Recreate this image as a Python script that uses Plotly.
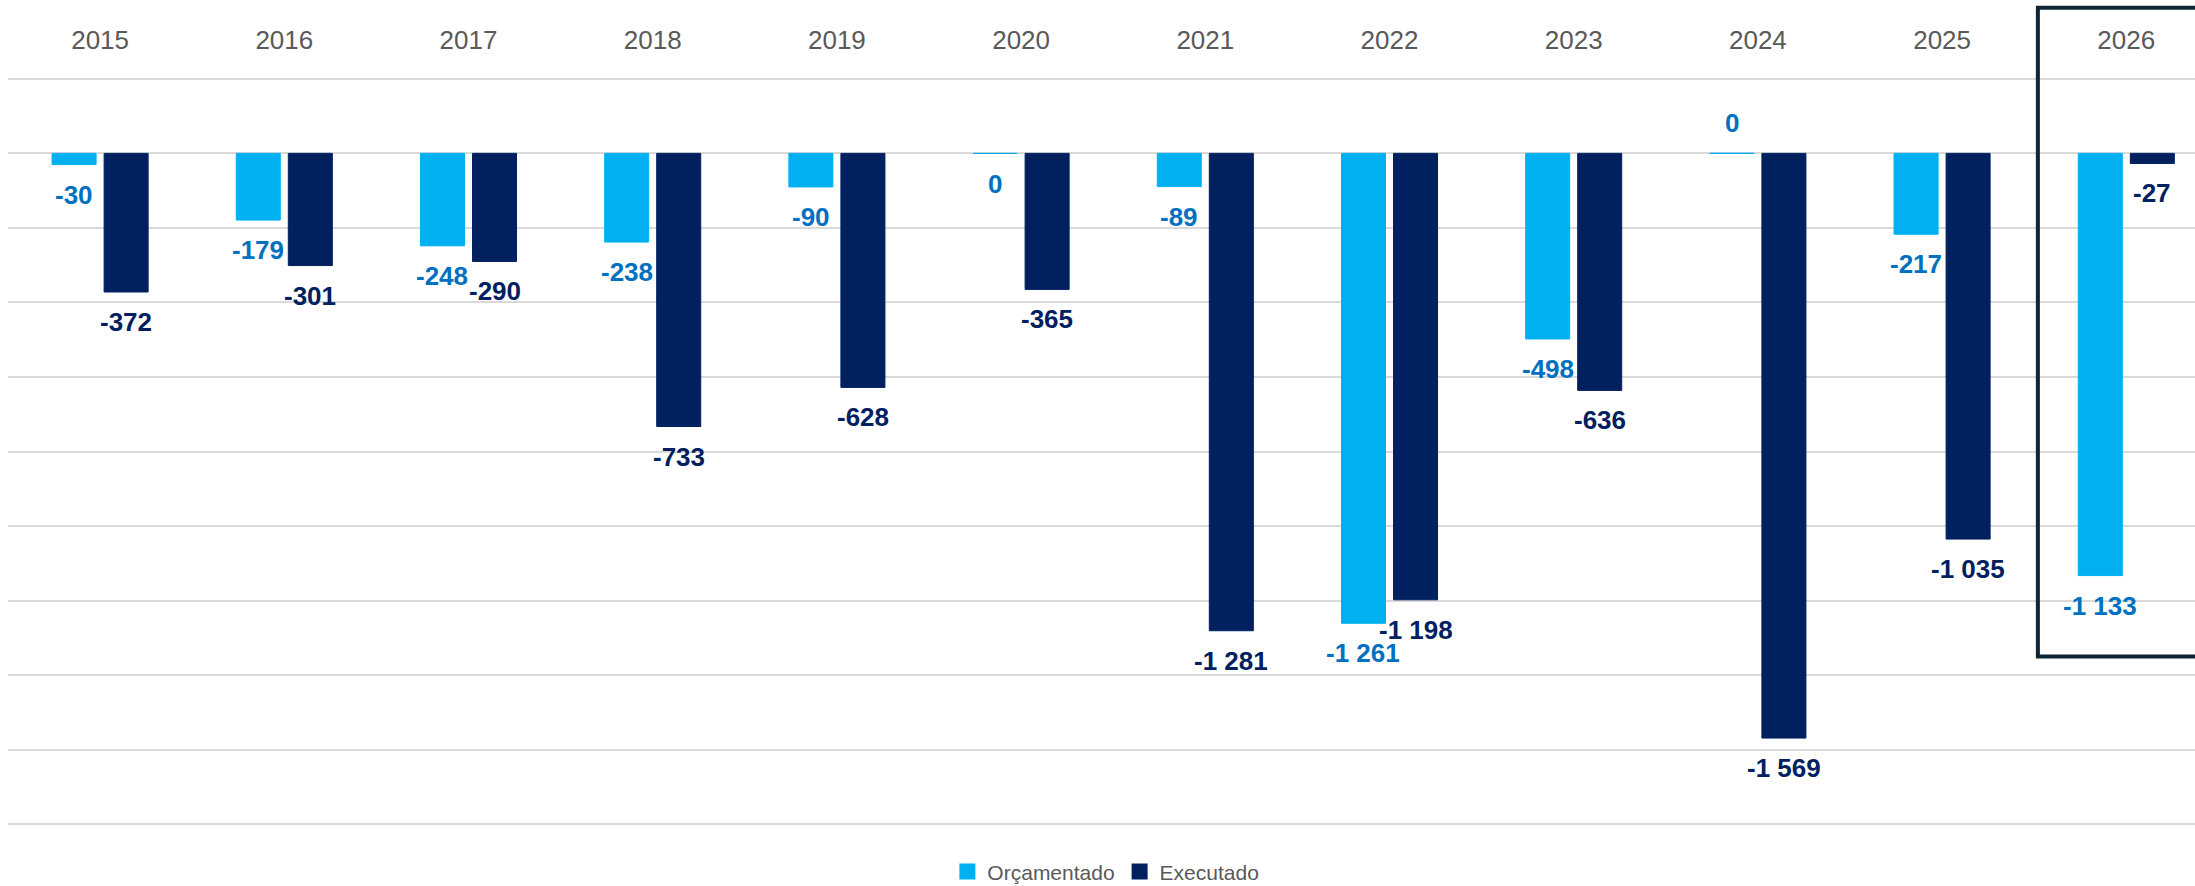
import plotly.graph_objects as go

years = ["2015", "2016", "2017", "2018", "2019", "2020", "2021", "2022", "2023", "2024", "2025", "2026"]
orcamentado = [-30, -179, -248, -238, -90, -0.3, -89, -1261, -498, 0.3, -217, -1133]
executado = [-372, -301, -290, -733, -628, -365, -1281, -1198, -636, -1569, -1035, -27]
series_names = ["Orçamentado", "Executado"]
bar_colors = ["#00B0F0", "#002060"]
label_colors = ["#0070C0", "#002060"]
highlight_year = "2026"

BARGAP = 0.435
BARGROUPGAP = 0.154
FONT = "Liberation Sans, Arial, sans-serif"


def fmt(v):
    n = int(round(v))
    s = f"{abs(n):,}".replace(",", " ")
    return ("-" if n < 0 else "") + s


fig = go.Figure()
series = [orcamentado, executado]
for name, vals, col in zip(series_names, series, bar_colors):
    fig.add_trace(go.Bar(
        x=years, y=vals, name=name, showlegend=False,
        marker=dict(color=col, line=dict(color=col, width=1)),
        hoverinfo="skip",
    ))
# legend entries with larger square swatches
for name, col in zip(series_names, bar_colors):
    fig.add_trace(go.Scatter(
        x=[None], y=[None], mode="markers", name=name,
        marker=dict(symbol="square", size=16, color=col),
        showlegend=True, hoverinfo="skip",
    ))

# data labels as annotations, positioned via axis coordinates
slot = (1 - BARGAP) / 2
annotations = []
for ti, (vals, lc) in enumerate(zip(series, label_colors)):
    off = (ti - 0.5) * slot
    for i, v in enumerate(vals):
        annotations.append(dict(
            x=i + off, y=v, xref="x", yref="y",
            text=fmt(v), showarrow=False,
            yanchor="middle", xanchor="center",
            yshift=-30 if v < 0 else 30,
            font=dict(family=FONT, size=26, color=lc, weight="bold"),
        ))

hi = years.index(highlight_year)
fig.add_shape(
    type="rect", xref="x", yref="paper",
    x0=hi - 0.48, x1=hi + 0.9, y0=0.2263, y1=1.0925,
    line=dict(color="#0D2535", width=4), fillcolor="rgba(0,0,0,0)",
    layer="above",
)

fig.update_layout(
    width=2195, height=886,
    margin=dict(l=8, r=0, t=77, b=60, pad=0, autoexpand=False),
    paper_bgcolor="white", plot_bgcolor="white",
    barmode="group", bargap=BARGAP, bargroupgap=BARGROUPGAP,
    font=dict(family=FONT, color="#595959"),
    showlegend=True,
    legend=dict(orientation="h", x=0.502, xanchor="center",
                xref="paper", yref="container", y=0.016, yanchor="middle",
                itemsizing="trace", tracegroupgap=0,
                font=dict(size=21, color="#595959"), traceorder="normal",
                bgcolor="rgba(0,0,0,0)"),
    annotations=annotations,
    xaxis=dict(type="category", side="top", range=[-0.5, 11.373],
               showgrid=False, showline=False, ticks="",
               tickfont=dict(size=26, color="#595959", family=FONT),
               ticklabelstandoff=22, fixedrange=True),
    yaxis=dict(range=[-1805, 205], tick0=0, dtick=200,
               showgrid=True, gridcolor="#D9D9D9", gridwidth=2,
               zeroline=True, zerolinecolor="#D9D9D9", zerolinewidth=2,
               showticklabels=False, showline=False, ticks="", fixedrange=True),
)

fig.write_html(
    "out.html",
    config={"displayModeBar": False},
    post_script="document.body.style.margin='0px';document.body.style.overflow='hidden';",
)
